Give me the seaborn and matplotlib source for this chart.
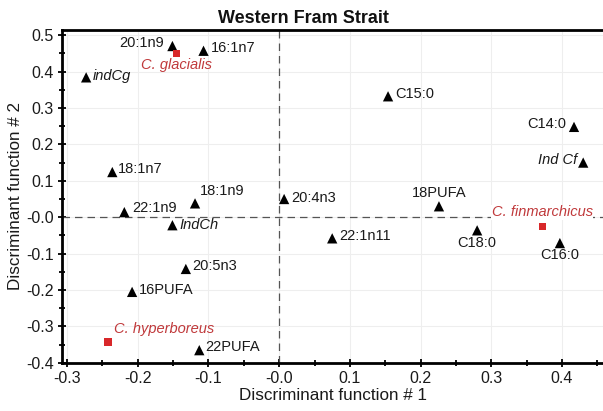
import matplotlib
matplotlib.use("Agg")
import matplotlib.pyplot as plt
import seaborn as sns
import pandas as pd
from matplotlib.ticker import MultipleLocator

sns.set_theme(style="white")
plt.rcParams['font.family'] = ['Liberation Sans', 'DejaVu Sans']

# fatty-acid variables (triangles)
fa_labels = ["20:1n9", "16:1n7", "indCg", "18:1n7", "18:1n9", "22:1n9", "IndCh",
             "20:5n3", "16PUFA", "22PUFA", "20:4n3", "C15:0", "C14:0", "Ind Cf",
             "18PUFA", "22:1n11", "C18:0", "C16:0"]
fa_x = [-0.151, -0.107, -0.273, -0.236, -0.119, -0.219, -0.151,
        -0.132, -0.208, -0.113, 0.007, 0.154, 0.417, 0.430,
        0.226, 0.075, 0.280, 0.397]
fa_y = [0.470, 0.457, 0.384, 0.124, 0.038, 0.014, -0.022,
        -0.142, -0.205, -0.365, 0.050, 0.332, 0.248, 0.150,
        0.030, -0.058, -0.036, -0.071]

# species centroids (red squares)
sp_labels = ["C. glacialis", "C. hyperboreus", "C. finmarchicus"]
sp_x = [-0.145, -0.242, 0.372]
sp_y = [0.449, -0.343, -0.025]

# label offsets in pixels (dx, dy, ha)
fa_off = {
    "20:1n9": (-8, 3, "right"), "16:1n7": (7, 3, "left"), "indCg": (7, 1, "left"),
    "18:1n7": (6, 3, "left"), "18:1n9": (5, 12, "left"), "22:1n9": (8, 4, "left"),
    "IndCh": (7, 0, "left"), "20:5n3": (6, 3, "left"), "16PUFA": (7, 2, "left"),
    "22PUFA": (6, 3, "left"), "20:4n3": (7, 1, "left"), "C15:0": (7, 2, "left"),
    "C14:0": (-8, 3, "right"), "Ind Cf": (-6, 3, "right"), "18PUFA": (0, 13, "center"),
    "22:1n11": (7, 2, "left"), "C18:0": (0, -13, "center"), "C16:0": (0, -12, "center"),
}
sp_off = {"C. glacialis": (0, -11, "center"), "C. hyperboreus": (6, 13, "left"),
          "C. finmarchicus": (0, 14, "center")}
italic_fa = {"indCg", "IndCh", "Ind Cf"}

fa_df = pd.DataFrame({"x": fa_x, "y": fa_y, "label": fa_labels})
sp_df = pd.DataFrame({"x": sp_x, "y": sp_y, "label": sp_labels})

fig = plt.figure(figsize=(6.03, 4.11), dpi=100)
ax = fig.add_axes([0.103, 0.117, 0.897, 0.810])

ax.axhline(0, color="#555555", lw=0.9, ls=(0, (6, 4)), zorder=1)
ax.axvline(0, color="#555555", lw=0.9, ls=(0, (6, 4)), zorder=1)

sns.scatterplot(data=fa_df, x="x", y="y", marker="^", color="black", s=55,
                edgecolor="none", ax=ax, zorder=3)
sns.scatterplot(data=sp_df, x="x", y="y", marker="s", color="#d8282a", s=28,
                edgecolor="none", ax=ax, zorder=3)

for lab, x, y in zip(fa_labels, fa_x, fa_y):
    dx, dy, ha = fa_off[lab]
    ax.annotate(lab, (x, y), xytext=(dx, dy), textcoords="offset pixels",
                ha=ha, va="center", fontsize=10.5, color="#1a1a1a",
                style="italic" if lab in italic_fa else "normal", zorder=4)
for lab, x, y in zip(sp_labels, sp_x, sp_y):
    dx, dy, ha = sp_off[lab]
    ax.annotate(lab, (x, y), xytext=(dx, dy), textcoords="offset pixels",
                ha=ha, va="center", fontsize=10.5, color="#c0393b",
                style="italic", zorder=4,
                bbox=dict(facecolor="white", edgecolor="none", pad=0.5) if lab == "C. finmarchicus" else None)

ax.set_xlim(-0.307, 0.458)
ax.set_ylim(-0.40, 0.514)
ax.xaxis.set_minor_locator(MultipleLocator(0.05))
ax.yaxis.set_minor_locator(MultipleLocator(0.05))

def fmt(v):
    return "-0.0" if abs(v) < 1e-9 else f"{v:.1f}"

xt = [-0.3, -0.2, -0.1, 0.0, 0.1, 0.2, 0.3, 0.4]
yt = [-0.4, -0.3, -0.2, -0.1, 0.0, 0.1, 0.2, 0.3, 0.4, 0.5]
ax.set_xticks(xt)
ax.set_xticklabels([fmt(v) for v in xt])
ax.set_yticks(yt)
ax.set_yticklabels([fmt(v) for v in yt])

ax.tick_params(which="major", direction="inout", length=6, width=1.3, colors="black",
               labelsize=11.5, pad=3, bottom=True, left=True, labelcolor="#1a1a1a")
ax.tick_params(which="minor", direction="inout", length=5, width=1.3, colors="black",
               bottom=True, left=True)
ax.grid(True, which="major", color="#eeeeee", lw=0.8)
ax.set_axisbelow(True)

for side in ["left", "bottom", "top"]:
    ax.spines[side].set_visible(True)
    ax.spines[side].set_color("black")
    ax.spines[side].set_linewidth(2)
ax.spines["right"].set_visible(False)

ax.set_xlabel("Discriminant function # 1", fontsize=12.3, labelpad=1, color="#1a1a1a")
ax.set_ylabel("Discriminant function # 2", fontsize=12.3, labelpad=2, color="#1a1a1a")
fig.text(0.503, 1 - 23 / 411, "Western Fram Strait", fontsize=13, fontweight="bold",
         ha="center", va="baseline", color="#111111")

fig.savefig("out.png", dpi=100)
